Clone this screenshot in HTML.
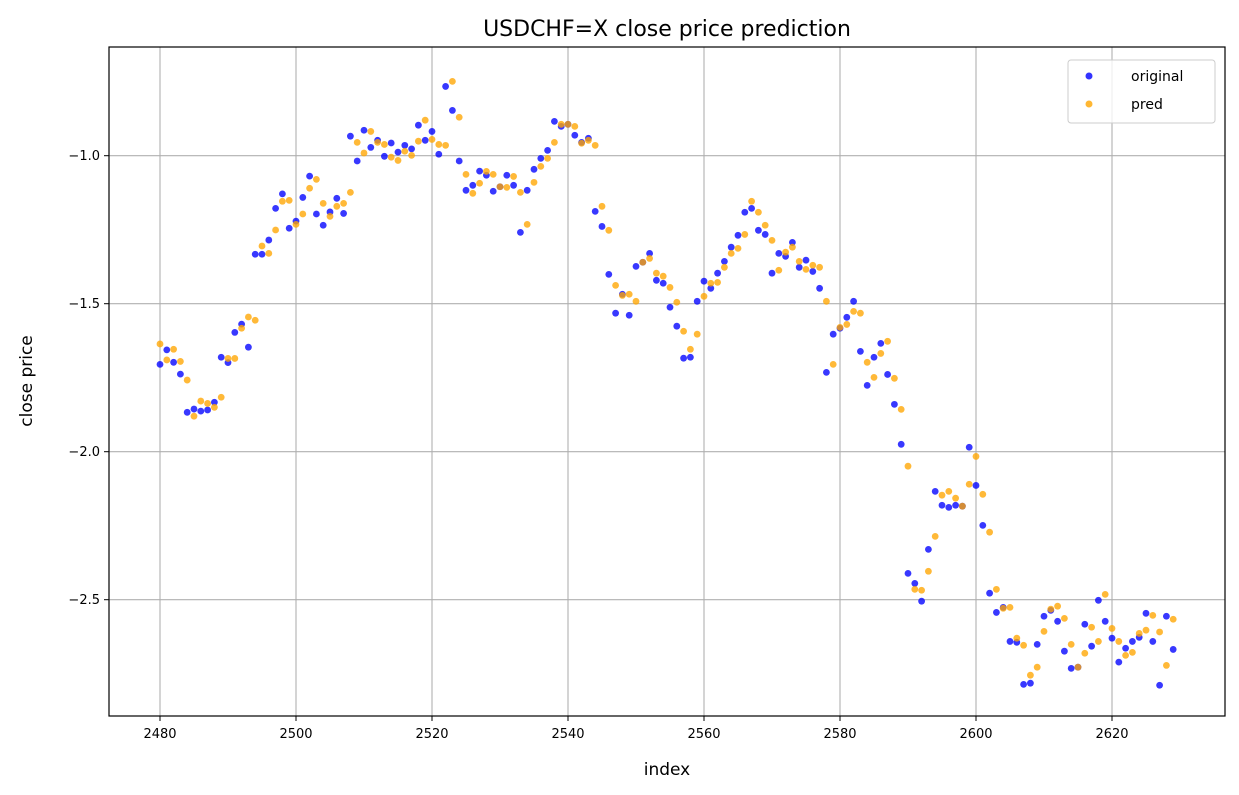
<!DOCTYPE html>
<html><head><meta charset="utf-8"><style>
html,body{margin:0;padding:0;background:#fff;}
svg{display:block;font-family:"DejaVu Sans","Liberation Sans",sans-serif;}
</style></head><body>
<svg id="chart" width="1239" height="795" viewBox="0 0 1239 795">
<rect width="1239" height="795" fill="#fff"/>
<text x="667" y="36" font-size="22" text-anchor="middle" fill="#000">USDCHF=X close price prediction</text>
<g id="grid"></g>
<g id="pts"></g>
<rect x="109" y="47" width="1116" height="669" fill="none" stroke="#000" stroke-width="1.2"/>
<g id="ticks"></g>
<text x="667" y="775" font-size="17" text-anchor="middle">index</text>
<text x="32" y="381" font-size="17" text-anchor="middle" transform="rotate(-90 32 381)">close price</text>
<g>
<rect x="1068" y="60" width="147" height="63" rx="3" fill="#fff" fill-opacity="0.8" stroke="#ccc"/>
<g><circle cx="1089" cy="76" r="3.5" fill="#0000ff" fill-opacity="0.8"/><text x="1131" y="81" font-size="14">original</text></g>
<g><circle cx="1089" cy="104" r="3.5" fill="#ffa500" fill-opacity="0.8"/><text x="1131" y="109" font-size="14">pred</text></g>
</g>
</svg>
<script>
const xStart = 2480;
const original = [-1.705,-1.656,-1.698,-1.738,-1.867,-1.856,-1.863,-1.859,-1.833,-1.681,-1.699,-1.597,-1.569,-1.647,-1.333,-1.333,-1.285,-1.178,-1.129,-1.245,
-1.221,-1.141,-1.069,-1.197,-1.235,-1.190,-1.144,-1.195,-0.934,-1.018,-0.914,-0.972,-0.948,-1.002,-0.957,-0.988,-0.965,-0.977,-0.897,-0.948,
-0.918,-0.995,-0.766,-0.847,-1.018,-1.117,-1.100,-1.052,-1.066,-1.120,-1.105,-1.066,-1.100,-1.259,-1.117,-1.046,-1.009,-0.982,-0.884,-0.901,
-0.894,-0.931,-0.955,-0.941,-1.188,-1.239,-1.401,-1.532,-1.468,-1.539,-1.374,-1.360,-1.330,-1.421,-1.431,-1.512,-1.576,-1.684,-1.681,-1.492,
-1.424,-1.448,-1.397,-1.357,-1.309,-1.269,-1.191,-1.178,-1.252,-1.266,-1.397,-1.330,-1.340,-1.293,-1.377,-1.353,-1.391,-1.448,-1.732,-1.603,
-1.583,-1.546,-1.492,-1.661,-1.776,-1.681,-1.634,-1.739,-1.840,-1.975,-2.411,-2.445,-2.505,-2.330,-2.134,-2.181,-2.188,-2.181,-2.184,-1.985,
-2.114,-2.249,-2.478,-2.543,-2.526,-2.641,-2.644,-2.786,-2.782,-2.651,-2.556,-2.536,-2.573,-2.674,-2.732,-2.728,-2.583,-2.657,-2.502,-2.573,
-2.630,-2.711,-2.664,-2.641,-2.627,-2.546,-2.641,-2.789,-2.556,-2.668];
const pred = [-1.636,-1.690,-1.654,-1.695,-1.758,-1.880,-1.829,-1.837,-1.850,-1.816,-1.685,-1.685,-1.583,-1.545,-1.556,-1.305,-1.330,-1.251,-1.154,-1.151,
-1.232,-1.197,-1.110,-1.080,-1.161,-1.205,-1.171,-1.161,-1.124,-0.955,-0.991,-0.918,-0.955,-0.962,-1.005,-1.016,-0.985,-0.999,-0.951,-0.880,
-0.945,-0.962,-0.965,-0.749,-0.870,-1.063,-1.127,-1.093,-1.053,-1.063,-1.105,-1.107,-1.070,-1.124,-1.232,-1.090,-1.036,-1.009,-0.955,-0.894,
-0.894,-0.901,-0.958,-0.948,-0.965,-1.171,-1.252,-1.438,-1.472,-1.468,-1.492,-1.360,-1.347,-1.397,-1.407,-1.445,-1.495,-1.593,-1.654,-1.603,
-1.475,-1.431,-1.428,-1.377,-1.330,-1.313,-1.266,-1.154,-1.191,-1.235,-1.286,-1.387,-1.326,-1.309,-1.357,-1.384,-1.370,-1.377,-1.492,-1.705,
-1.580,-1.570,-1.526,-1.532,-1.698,-1.749,-1.668,-1.627,-1.752,-1.857,-2.049,-2.465,-2.468,-2.404,-2.286,-2.147,-2.134,-2.157,-2.184,-2.110,
-2.016,-2.144,-2.272,-2.465,-2.529,-2.526,-2.630,-2.654,-2.755,-2.728,-2.607,-2.532,-2.522,-2.563,-2.651,-2.728,-2.681,-2.593,-2.641,-2.482,
-2.597,-2.641,-2.688,-2.678,-2.614,-2.603,-2.553,-2.609,-2.722,-2.566];
const xTicks = [2480,2500,2520,2540,2560,2580,2600,2620];
const yTicks = [-1.0,-1.5,-2.0,-2.5];
const yTickLabels = ["\u22121.0","\u22121.5","\u22122.0","\u22122.5"];

const NS="http://www.w3.org/2000/svg";
function X(v){return 160+(v-2480)*6.8;}
function Y(v){return 155.7-(v+1)*296;}
function mk(tag,attrs,parent){const e=document.createElementNS(NS,tag);for(const k in attrs)e.setAttribute(k,attrs[k]);parent.appendChild(e);return e;}
const grid=document.getElementById('grid'),ticks=document.getElementById('ticks'),pts=document.getElementById('pts');
xTicks.forEach(t=>{
  const g=mk('line',{x1:X(t),x2:X(t),y1:47,y2:716,stroke:'#b0b0b0','stroke-width':1.1},grid);
  
  
  mk('line',{x1:X(t),x2:X(t),y1:716,y2:721,stroke:'#000'},ticks);
  const tx=mk('text',{x:X(t),y:738,'font-size':13,'text-anchor':'middle'},ticks);
  tx.textContent=t;
  
  
});
yTicks.forEach((t,i)=>{
  const g=mk('line',{x1:109,x2:1225,y1:Y(t),y2:Y(t),stroke:'#b0b0b0','stroke-width':1.1},grid);
  
  
  mk('line',{x1:104,x2:109,y1:Y(t),y2:Y(t),stroke:'#000'},ticks);
  const tx=mk('text',{x:100,y:Y(t)+4.5,'font-size':13,'text-anchor':'end'},ticks);
  tx.textContent=yTickLabels[i];
  
  
});
original.forEach((v,i)=>{
  const c=mk('circle',{cx:X(xStart+i),cy:Y(v),r:3.4,fill:'#0000ff','fill-opacity':0.78},pts);
  
  
});
pred.forEach((v,i)=>{
  const c=mk('circle',{cx:X(xStart+i),cy:Y(v),r:3.4,fill:'#ffa500','fill-opacity':0.78},pts);
  
  
});
</script>
</body></html>
